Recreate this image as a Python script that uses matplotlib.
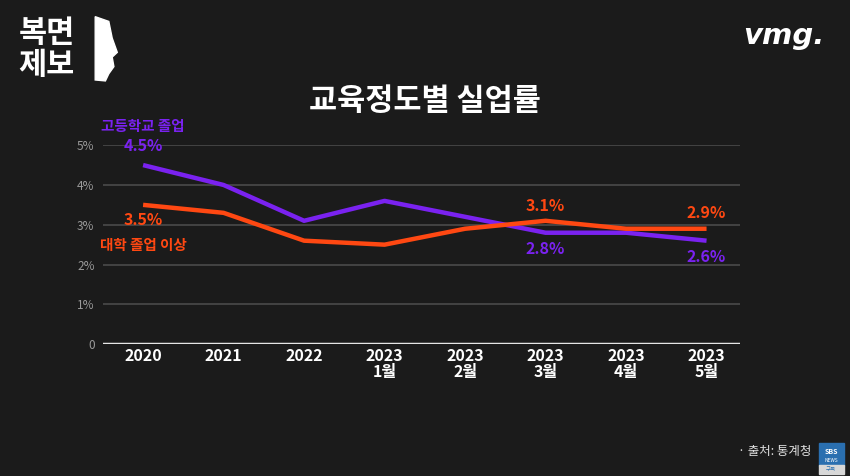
import matplotlib
matplotlib.use("Agg")
import matplotlib.pyplot as plt
from matplotlib.patches import Rectangle, Polygon

plt.rcParams['font.family'] = ['Noto Sans CJK KR', 'DejaVu Sans']

categories = ["2020", "2021", "2022", "2023\n1월", "2023\n2월", "2023\n3월", "2023\n4월", "2023\n5월"]
high_school = [4.5, 4.0, 3.1, 3.6, 3.2, 2.8, 2.8, 2.6]
college = [3.5, 3.3, 2.6, 2.5, 2.9, 3.1, 2.9, 2.9]
ytick_vals = [0, 1, 2, 3, 4, 5]
ytick_labels = ["0", "1%", "2%", "3%", "4%", "5%"]

BG = "#1b1b1b"
PURPLE = "#7a22f0"
ORANGE = "#ff4812"

fig = plt.figure(figsize=(8.5, 4.76), dpi=100)
fig.patch.set_facecolor(BG)
ax = fig.add_axes([0.121, 0.277, 0.750, 0.418])
ax.set_facecolor(BG)

x = list(range(len(categories)))
for v in ytick_vals[1:]:
    ax.axhline(v, color="#4a4a4a", lw=1.2, zorder=1)
ax.axhline(0, color="#e6e6e6", lw=2.5, zorder=2)

ax.plot(x, high_school, color=PURPLE, lw=3.2, zorder=3, solid_capstyle='butt')
ax.plot(x, college, color=ORANGE, lw=3.2, zorder=4, solid_capstyle='butt')

ax.set_xlim(-0.5, 7.42)
ax.set_ylim(0, 5)
for s in ax.spines.values():
    s.set_visible(False)
ax.set_yticks(ytick_vals)
ax.set_yticklabels(ytick_labels, color="#9a9a9a", fontsize=8.5)
ax.set_xticks(x)
ax.set_xticklabels(categories, color="white", fontsize=11.5, fontweight="bold", linespacing=1.0, va="top")
ax.tick_params(axis="both", length=0)
ax.tick_params(axis="x", pad=3)
ax.tick_params(axis="y", pad=6)

def lab(i, val, text, color, dy):
    ax.annotate(text, (x[i], val), xytext=(0, dy), textcoords="offset points",
                ha="center", va="center", color=color, fontsize=11.5, fontweight="bold", zorder=5)

lab(0, high_school[0], f"{high_school[0]}%", PURPLE, 14)
lab(0, college[0], f"{college[0]}%", ORANGE, -11)
lab(5, college[5], f"{college[5]}%", ORANGE, 11)
lab(5, high_school[5], f"{high_school[5]}%", PURPLE, -12)
lab(7, college[7], f"{college[7]}%", ORANGE, 11)
lab(7, high_school[7], f"{high_school[7]}%", PURPLE, -12)

ax.annotate("고등학교 졸업", (x[0], high_school[0]), xytext=(0, 28), textcoords="offset points",
            ha="center", va="center", color=PURPLE, fontsize=10.5, fontweight="bold")
ax.annotate("대학 졸업 이상", (x[0], college[0]), xytext=(0, -29), textcoords="offset points",
            ha="center", va="center", color=ORANGE, fontsize=10.5, fontweight="bold")

fig.text(0.5, 0.787, "교육정도별 실업률", color="white", fontsize=22, fontweight="black", ha="center", va="center")

# logos
fig.text(0.022, 0.93, "복면", color="white", fontsize=22, fontweight="black", ha="left", va="center")
fig.text(0.022, 0.863, "제보", color="white", fontsize=22, fontweight="black", ha="left", va="center")
face = [(0.112, 0.965), (0.128, 0.955), (0.132, 0.92), (0.138, 0.89), (0.132, 0.88),
        (0.134, 0.86), (0.128, 0.845), (0.124, 0.83), (0.112, 0.832)]
fig.patches.append(Polygon(face, closed=True, transform=fig.transFigure, color="white"))
fig.text(0.97, 0.925, "vmg.", color="white", fontsize=21, fontweight="black", style="italic", ha="right", va="center", family="DejaVu Sans")

fig.text(0.955, 0.052, "· 출처: 통계청", color="#e0e0e0", fontsize=9, ha="right", va="center")
fig.patches.append(Rectangle((0.963, 0.022), 0.030, 0.047, transform=fig.transFigure, color="#2a6fb0", zorder=5))
fig.patches.append(Rectangle((0.963, 0.005), 0.030, 0.018, transform=fig.transFigure, color="#d8d8d8", zorder=5))
fig.text(0.978, 0.052, "SBS", color="white", fontsize=5, fontweight="bold", ha="center", va="center", zorder=6)
fig.text(0.978, 0.032, "NEWS", color="white", fontsize=3.5, ha="center", va="center", zorder=6)
fig.text(0.978, 0.014, "구독", color="#2a6fb0", fontsize=4, ha="center", va="center", zorder=6)

fig.savefig("out.png", dpi=100, facecolor=BG)
